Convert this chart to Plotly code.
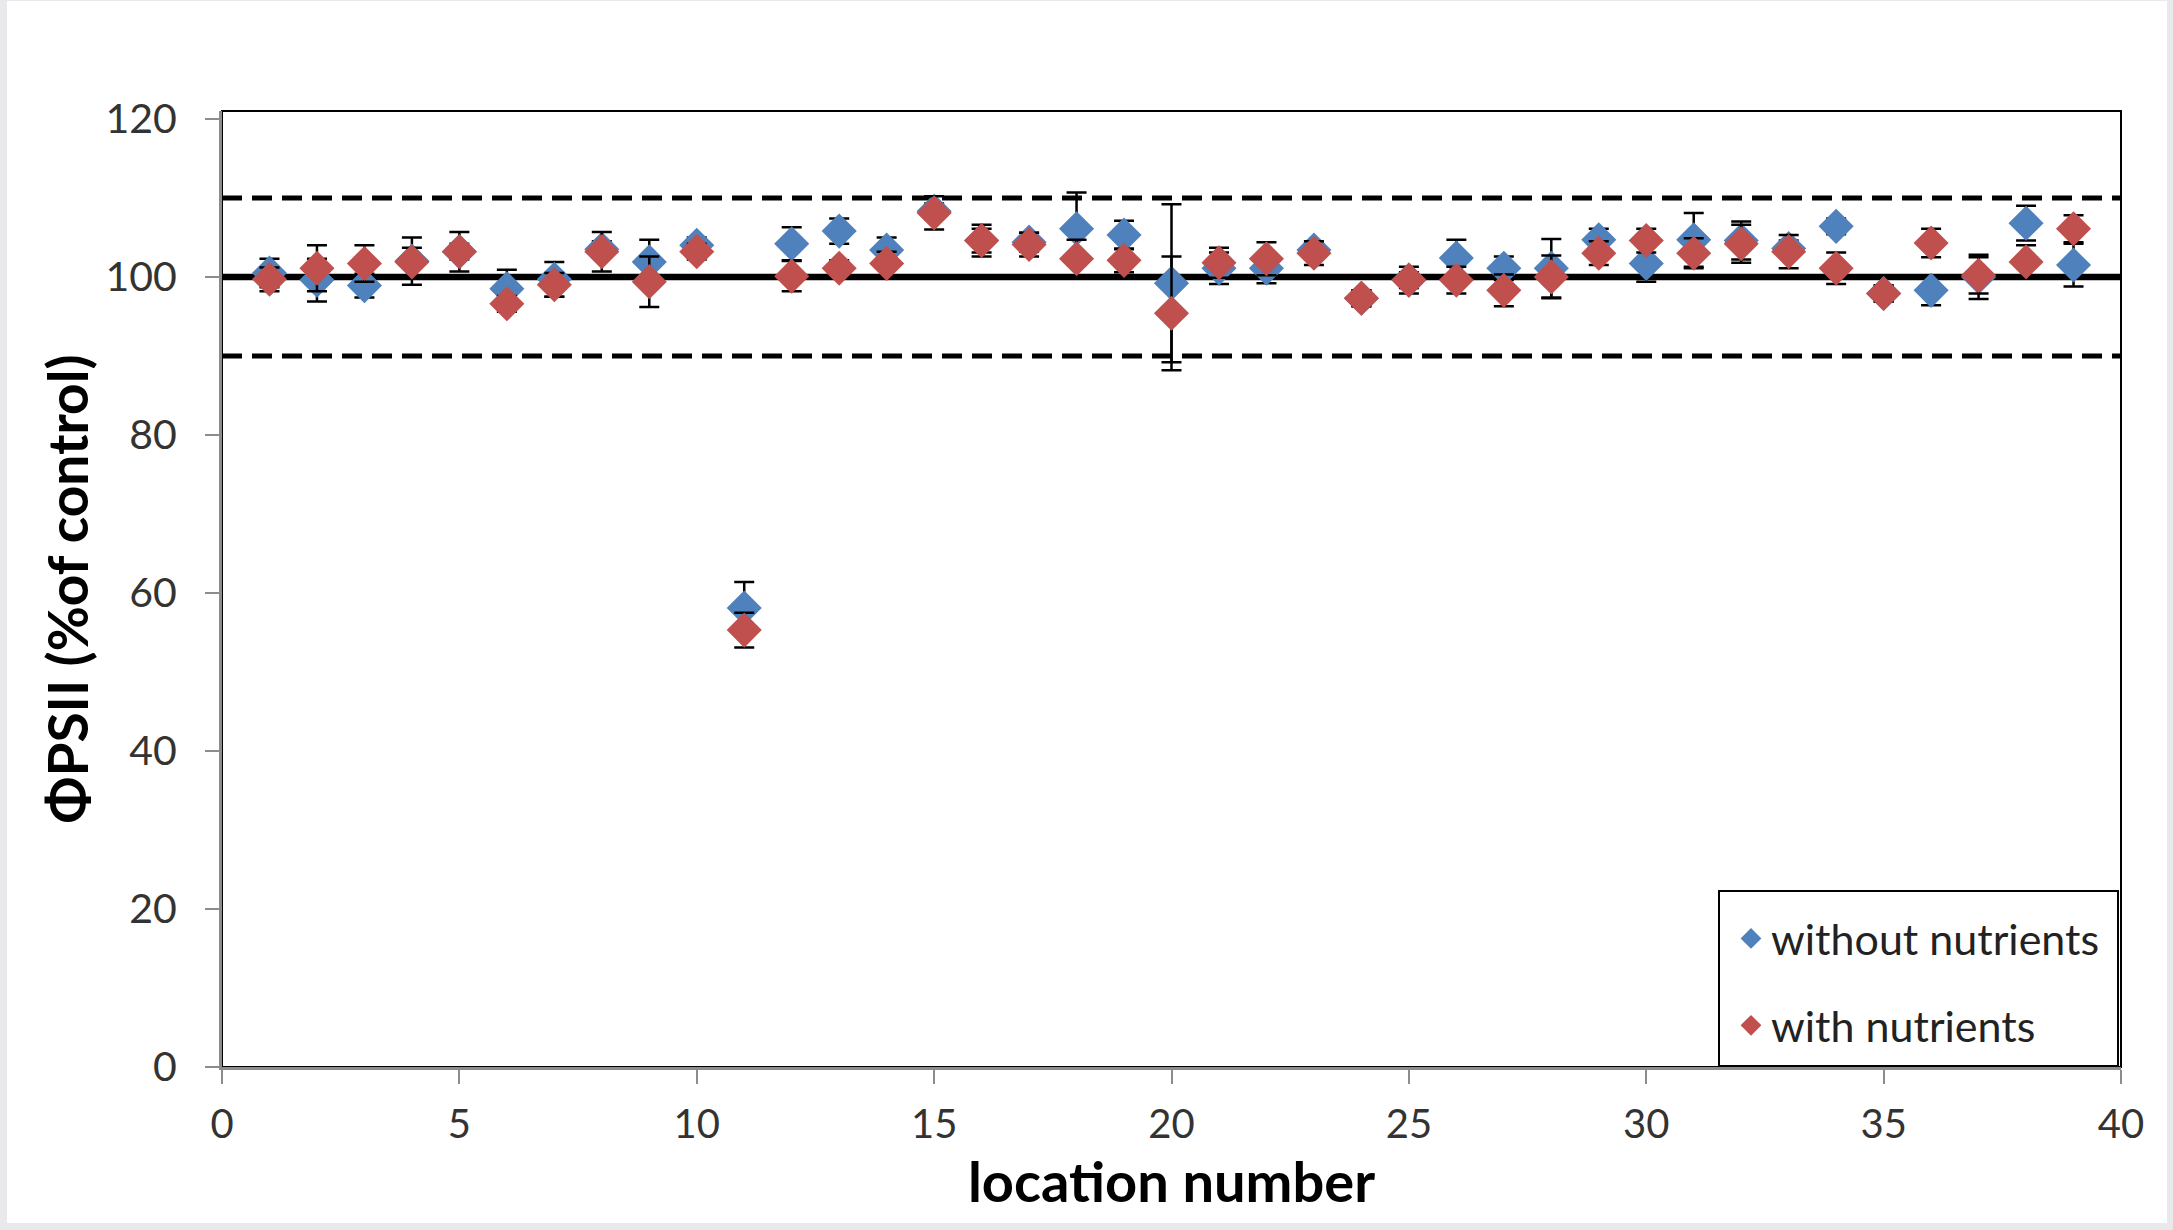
import plotly.graph_objects as go

locations = list(range(1, 40))

without_nutrients = [100.5, 99.6, 98.9, 102.0, 103.2, 98.5, 99.7, 103.5, 101.9, 104.0,
                     58.1, 104.2, 105.8, 103.4, 108.3, 104.6, 104.4, 106.1, 105.3, 99.2,
                     101.1, 101.1, 103.4, 97.3, 99.6, 102.4, 101.1, 101.1, 104.7, 101.7,
                     104.7, 104.6, 103.6, 106.4, 97.9, 98.3, 100.0, 106.8, 101.5]
without_err = [1.8, 2.7, 1.5, 3.0, 1.0, 2.4, 2.2, 1.0, 2.8, 1.0,
               3.3, 2.1, 1.6, 1.6, 1.0, 1.5, 1.2, 4.6, 1.8, 10.0,
               2.0, 1.9, 1.0, 1.0, 1.7, 2.3, 1.5, 3.7, 1.4, 2.3,
               3.4, 2.4, 1.0, 1.0, 1.0, 1.9, 2.8, 2.2, 2.7]

with_nutrients = [99.7, 101.1, 101.7, 101.9, 103.2, 96.6, 99.0, 103.2, 99.4, 103.2,
                  55.3, 100.1, 101.1, 101.7, 108.1, 104.6, 104.1, 102.3, 102.1, 95.4,
                  101.8, 102.3, 103.0, 97.3, 99.6, 99.6, 98.3, 100.0, 103.0, 104.6,
                  103.0, 104.2, 103.2, 101.1, 97.9, 104.3, 100.2, 101.9, 106.1]
with_err = [1.5, 2.9, 2.3, 1.8, 2.5, 1.0, 1.5, 2.5, 3.2, 1.0,
            2.2, 1.9, 1.0, 1.5, 2.1, 2.0, 1.5, 2.4, 1.5, 7.2,
            1.9, 2.1, 1.5, 1.0, 1.0, 1.7, 2.0, 2.7, 1.5, 1.5,
            1.9, 2.4, 2.1, 2.0, 1.0, 1.8, 2.3, 2.1, 1.7]

control_level = 100
limit_levels = [90, 110]

x_ticks = [0, 5, 10, 15, 20, 25, 30, 35, 40]
y_ticks = [0, 20, 40, 60, 80, 100, 120]

W, H = 2173, 1230
L, R, T, B = 222, 52, 111, 163
pw, ph = W - L - R, H - T - B


def px_x(p):
    return (p - L) / pw


def px_y(p):
    return (H - B - p) / ph


FONT = "Lato"

fig = go.Figure()

fig.add_trace(go.Scatter(
    x=locations, y=without_nutrients, mode="markers", name="without nutrients",
    legendgroup="a",
    marker=dict(symbol="diamond", size=27, color="#4F81BD", line=dict(width=0)),
    error_y=dict(type="data", array=without_err, symmetric=True,
                 color="black", thickness=2.5, width=10),
))
fig.add_trace(go.Scatter(
    x=locations, y=with_nutrients, mode="markers", name="with nutrients",
    legendgroup="b",
    marker=dict(symbol="diamond", size=27, color="#C0504D", line=dict(width=0)),
    error_y=dict(type="data", array=with_err, symmetric=True,
                 color="black", thickness=2.5, width=10),
))

shapes = []
# white page over light gray frame
shapes.append(dict(type="rect", xref="paper", yref="paper",
                   x0=px_x(7), x1=px_x(2167), y0=px_y(1223), y1=px_y(1),
                   fillcolor="white", line=dict(width=0), layer="below"))
# plot box (top/right black)
shapes.append(dict(type="rect", xref="paper", yref="paper", x0=0, x1=1, y0=0, y1=1,
                   line=dict(color="black", width=2), fillcolor="rgba(0,0,0,0)", layer="below"))
# reference lines
shapes.append(dict(type="line", xref="paper", yref="y", x0=0, x1=1,
                   y0=control_level, y1=control_level,
                   line=dict(color="black", width=6.5), layer="below"))
for lv in limit_levels:
    shapes.append(dict(type="line", xref="paper", yref="y", x0=0, x1=1, y0=lv, y1=lv,
                       line=dict(color="black", width=5, dash="20px,10px"), layer="below"))
# legend frame
shapes.append(dict(type="rect", xref="paper", yref="paper",
                   x0=px_x(1719), x1=px_x(2118), y0=px_y(1066), y1=px_y(891),
                   fillcolor="white", line=dict(color="black", width=2), layer="above"))

fig.update_layout(
    width=W, height=H,
    margin=dict(l=L, r=R, t=T, b=B),
    paper_bgcolor="#e9e9ec",
    plot_bgcolor="rgba(0,0,0,0)",
    shapes=shapes,
    font=dict(family=FONT, color="#333333"),
    showlegend=True,
    legend=dict(
        x=px_x(1731), xanchor="left", y=px_y(982), yanchor="middle",
        bgcolor="rgba(0,0,0,0)", borderwidth=0,
        font=dict(family=FONT, size=43, color="#222222"),
        traceorder="grouped", tracegroupgap=28,
        itemwidth=30,
    ),
    xaxis=dict(
        range=[0, 40], tickvals=x_ticks, ticktext=[str(v) for v in x_ticks],
        showgrid=False, zeroline=False,
        showline=True, linecolor="#8c8c8c", linewidth=3,
        ticks="outside", ticklen=14, tickwidth=2, tickcolor="#8c8c8c",
        tickfont=dict(family=FONT, size=40, color="#333333"),
        ticklabelstandoff=6,
        title=dict(text="<b>location number</b>", standoff=4,
                   font=dict(family=FONT, size=56, color="black")),
    ),
    yaxis=dict(
        range=[0, 121], tickvals=y_ticks, ticktext=[str(v) for v in y_ticks],
        showgrid=False, zeroline=False,
        showline=True, linecolor="#8c8c8c", linewidth=3,
        ticks="outside", ticklen=14, tickwidth=2, tickcolor="#8c8c8c",
        tickfont=dict(family=FONT, size=41, color="#333333"),
        ticklabelstandoff=20,
        title=dict(text="<b>ΦPSII (%of control)</b>", standoff=0,
                   font=dict(family=FONT, size=55, color="black")),
    ),
)

fig.write_html("out.html",
               config={"displayModeBar": False},
               post_script="document.body.style.margin='0px';document.body.style.overflow='hidden';")
